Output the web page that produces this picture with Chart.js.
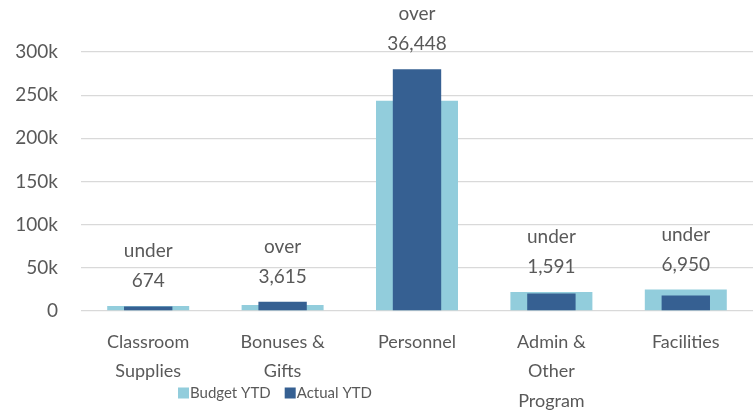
<!DOCTYPE html>
<html lang="en">
<head>
    <meta charset="UTF-8">
    <title>Budget vs Actual YTD</title>
    <script src="https://cdn.jsdelivr.net/npm/chart.js"></script>
    <style>
        body {
            margin: 0;
            padding: 0;
            background: #ffffff;
        }
        #wrap {
            width: 753px;
            height: 415px;
        }
    </style>
</head>
<body>
    <div id="wrap"><canvas id="bar-chart"></canvas></div>

    <script>
        // data
        const categories = [
            ["Classroom", "Supplies"],
            ["Bonuses &", "Gifts"],
            "Personnel",
            ["Admin &", "Other", "Program"],
            "Facilities"
        ];
        const budgetYTD = [5800, 7000, 243500, 21900, 25000];
        const actualYTD = [5126, 10615, 279948, 20309, 18050];
        const varianceWords = ["under", "over", "over", "under", "under"];
        const varianceNumbers = ["674", "3,615", "36,448", "1,591", "6,950"];
        const yTicks = [0, 50000, 100000, 150000, 200000, 250000, 300000];

        const textColor = "#595959";
        const fontFamily = "Lato, 'Open Sans', sans-serif";

        // two-line "under / 674" labels above each pair of bars
        const varianceLabels = {
            id: "varianceLabels",
            afterDatasetsDraw(chart) {
                const ctx = chart.ctx;
                const y = chart.scales.y;
                const x = chart.scales.x;
                ctx.save();
                ctx.fillStyle = textColor;
                ctx.font = "19px " + fontFamily;
                ctx.textAlign = "center";
                ctx.textBaseline = "middle";
                categories.forEach((c, i) => {
                    const top = y.getPixelForValue(Math.max(budgetYTD[i], actualYTD[i]));
                    const cx = x.getPixelForValue(i);
                    ctx.fillText(varianceNumbers[i], cx, top - 25);
                    ctx.fillText(varianceWords[i], cx, top - 55);
                });
                ctx.restore();
            }
        };

        // legend sits over the category labels like in the original
        const lowLegend = {
            id: "lowLegend",
            afterDraw(chart) {
                const ctx = chart.ctx;
                ctx.save();
                ctx.font = "15px " + fontFamily;
                ctx.textBaseline = "middle";
                ctx.textAlign = "left";
                let px = 178;
                const py = 393;
                [0, 1].forEach(i => {
                    const ds = chart.data.datasets[i];
                    ctx.fillStyle = ds.backgroundColor;
                    ctx.fillRect(px, py - 5.5, 11, 11);
                    ctx.fillStyle = textColor;
                    ctx.fillText(ds.label, px + 12, py);
                    px += 12 + ctx.measureText(ds.label).width + 14;
                });
                ctx.restore();
            }
        };

        new Chart(document.getElementById("bar-chart"), {
            type: "bar",
            data: {
                labels: categories,
                datasets: [
                    {
                        label: "Budget YTD",
                        data: budgetYTD,
                        backgroundColor: "#92cddc",
                        grouped: false,
                        barPercentage: 0.61,
                        categoryPercentage: 1,
                        order: 2
                    },
                    {
                        label: "Actual YTD",
                        data: actualYTD,
                        backgroundColor: "#366092",
                        grouped: false,
                        barPercentage: 0.36,
                        categoryPercentage: 1,
                        order: 1
                    }
                ]
            },
            options: {
                responsive: true,
                maintainAspectRatio: false,
                animation: false,
                layout: {
                    padding: { top: 52, right: 0, bottom: 0, left: 0 }
                },
                plugins: {
                    legend: { display: false },
                    tooltip: { enabled: false }
                },
                scales: {
                    x: {
                        grid: { display: false, drawTicks: false },
                        border: { display: false },
                        afterFit(axis) { axis.height = 104; },
                        ticks: {
                            color: textColor,
                            font: { family: fontFamily, size: 18, lineHeight: 1.65 },
                            maxRotation: 0,
                            autoSkip: false,
                            padding: 16
                        }
                    },
                    y: {
                        min: 0,
                        max: 300000,
                        afterBuildTicks(axis) {
                            axis.ticks = yTicks.map(v => ({ value: v }));
                        },
                        afterFit(axis) { axis.width = 81; },
                        grid: { color: "#d9d9d9", lineWidth: 1.3, drawTicks: false },
                        border: { display: false },
                        ticks: {
                            color: textColor,
                            font: { family: fontFamily, size: 19 },
                            padding: 23,
                            callback: v => v === 0 ? "0" : (v / 1000) + "k"
                        }
                    }
                }
            },
            plugins: [varianceLabels, lowLegend]
        });
    </script>
</body>
</html>
